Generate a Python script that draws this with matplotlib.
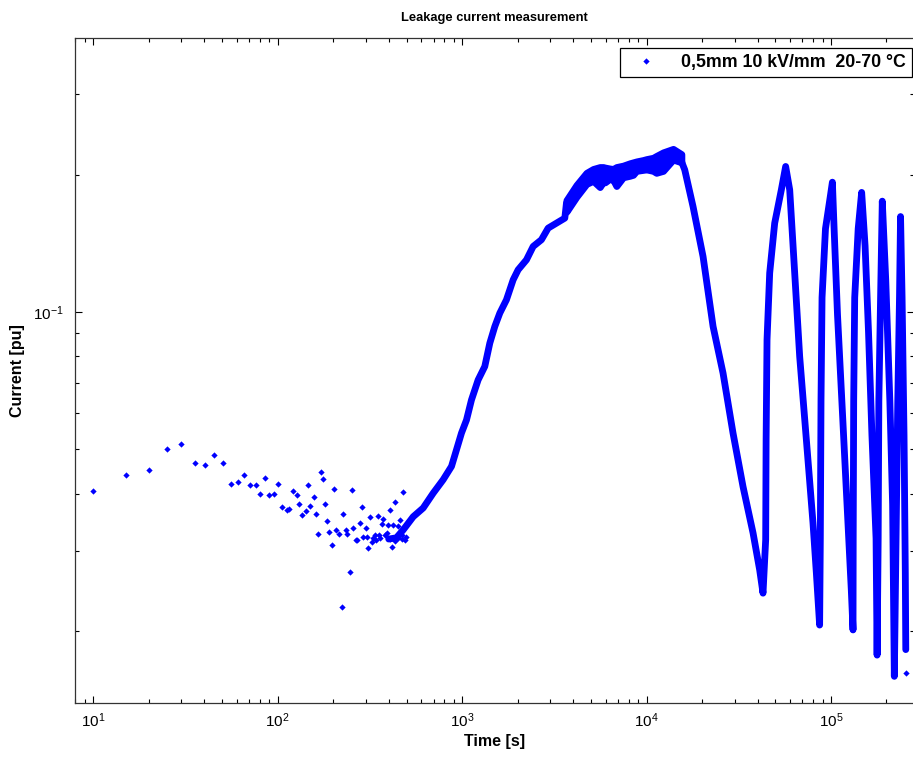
import numpy as np
import matplotlib.pyplot as plt

plt.rcParams['font.family'] = ['Liberation Sans', 'DejaVu Sans']
plt.rcParams['mathtext.default'] = 'regular'

# early readings, 5 s sampling, scattered
t_early = [10, 15, 20, 25, 30, 35.6, 40.3, 45.1, 50.5, 55.8, 60.6, 65.3, 71, 76.2, 80.4,
           85.2, 90, 95, 101, 105, 111.7, 115.5, 121, 126.6, 130, 136, 141.6, 145.8,
           150, 156.4, 161, 165.9, 170.8, 175.8, 180.3, 184.8, 190.2, 196.7, 201.7,
           207.6, 213.8, 222.8, 226.6, 233.3, 238.2, 246.3, 253.5, 256.7, 264.2, 269.8,
           280.2, 287.3, 290.9, 300.7, 309.5, 317.3, 322.6, 329.4, 336.3, 350.6, 355,
           365.6, 373.3, 381.1, 389.2, 397.2, 405.6, 414.3, 423, 431.8, 440.9, 450.2,
           459.6, 469.4, 479.2, 489.2, 305, 343, 360, 405, 430, 450, 470, 495]
i_early = [0.0406, 0.0439, 0.0450, 0.0501, 0.0515, 0.0467, 0.0463, 0.0486, 0.0467, 0.0420,
           0.0424, 0.0439, 0.0417, 0.0417, 0.0400, 0.0432, 0.0397, 0.0400, 0.0420, 0.0374,
           0.0368, 0.0371, 0.0406, 0.0398, 0.0380, 0.0359, 0.0366, 0.0417, 0.0376, 0.0394,
           0.0361, 0.0326, 0.0447, 0.0431, 0.0380, 0.0349, 0.0330, 0.0309, 0.0410, 0.0333,
           0.0326, 0.0226, 0.0361, 0.0333, 0.0326, 0.0269, 0.0408, 0.0336, 0.0317, 0.0317,
           0.0345, 0.0373, 0.0322, 0.0337, 0.0304, 0.0355, 0.0314, 0.0319, 0.0325, 0.0357,
           0.0325, 0.0343, 0.0352, 0.0325, 0.0328, 0.0342, 0.0368, 0.0305, 0.0342, 0.0383,
           0.0319, 0.0340, 0.0350, 0.0325, 0.0403, 0.0317, 0.0322, 0.0316, 0.0320, 0.0318,
           0.0315, 0.0320, 0.0318, 0.0322]

# continuous logging from ~400 s on (band centre)
t_run = [400, 440, 479, 543, 615, 697, 789, 876, 932, 992, 1056, 1124, 1221, 1327, 1413,
         1504, 1601, 1739, 1891, 2012, 2233, 2427, 2692, 2927, 3248, 3604, 3679, 4168,
         4721, 5131, 5577, 6061, 6589, 7157, 8108, 9186, 10850, 12290, 13924, 14510,
         15130, 16110, 17870, 20250, 22950, 25990, 29440, 33370, 37800, 41070, 42810,
         44260, 44500, 45010, 46530, 49530, 53810, 56800, 59740, 63580, 67670, 73550,
         79900, 83320, 86800, 87560, 88310, 89460, 93390, 99610, 101800, 104000, 108500,
         115800, 123500, 128900, 131700, 132000, 132800, 134500, 140500, 146700, 153100,
         159800, 166800, 175600, 177900, 180300, 181800, 185800, 189800, 198200, 208600,
         215900, 220600, 225400, 230300, 235300, 238400, 243000, 249000, 253000, 254500]
i_run = [0.0318, 0.0320, 0.0333, 0.0356, 0.0372, 0.0401, 0.0429, 0.0459, 0.0499, 0.0543,
         0.0580, 0.0642, 0.0710, 0.0760, 0.0855, 0.0930, 0.0995, 0.1064, 0.1177, 0.1238,
         0.1302, 0.1393, 0.1441, 0.1528, 0.1567, 0.1607, 0.1734, 0.1839,
         0.1984, 0.2035, 0.2017, 0.2000, 0.2030, 0.2051, 0.2086, 0.2121, 0.2139, 0.2170,
         0.2250, 0.2213, 0.2190, 0.2051, 0.1704, 0.1324, 0.0930, 0.0735, 0.0543,
         0.0414, 0.0328, 0.0272, 0.0242, 0.0317, 0.0525, 0.0870, 0.1218, 0.1567, 0.1854,
         0.2086, 0.1854, 0.1218, 0.0799, 0.0525, 0.0345, 0.0268, 0.0206, 0.0319, 0.0639,
         0.1076, 0.1524, 0.1814, 0.1927, 0.1524, 0.0987, 0.0586, 0.0348, 0.0246, 0.0201,
         0.0319, 0.0639, 0.1076, 0.1524, 0.1830, 0.1397, 0.0905, 0.0537, 0.0319, 0.0177,
         0.0319, 0.0639, 0.1076, 0.1751, 0.1174, 0.0639, 0.0379, 0.0159, 0.0319, 0.0639,
         0.1076, 0.1620, 0.1076, 0.0537, 0.0268, 0.0182]

# scatter width of the plateau readings (upper / lower edge)
t_band = [3679, 4168, 4721, 5131, 5577, 5816, 5947, 6317, 6589, 6860, 7460, 8108, 8450,
          8810, 9573, 9979, 10850, 11290, 12290, 13924, 15450]
i_band_hi = [0.1760, 0.1900, 0.2020, 0.2060, 0.2080, 0.2080, 0.2075, 0.2065, 0.2060,
             0.2080, 0.2095, 0.2120, 0.2130, 0.2140, 0.2155, 0.2165, 0.2180, 0.2200,
             0.2240, 0.2280, 0.2220]
i_band_lo = [0.1660, 0.1790, 0.1910, 0.1940, 0.1880, 0.1930, 0.1925, 0.1960, 0.1950,
             0.1890, 0.1975, 0.1990, 0.2000, 0.2040, 0.2050, 0.2055, 0.2040, 0.2020,
             0.2040, 0.2160, 0.2130]

t_last = [254100]
i_last = [0.0162]

fig = plt.figure(figsize=(9.13, 7.62), dpi=100)
ax = fig.add_axes([75 / 913, 59 / 762, 839 / 913, 665 / 762])

blue = (0, 0, 1)
ax.plot(t_run, i_run, '-', color=blue, lw=4.9, solid_capstyle='round',
        solid_joinstyle='round', label='_nolegend_')
ax.fill_between(t_band, i_band_lo, i_band_hi, color=blue, lw=4.9, edgecolor=blue,
                joinstyle='round')
ax.plot(t_early, i_early, 'D', color=blue, ms=3.2, mec='none',
        label='0,5mm 10 kV/mm  20-70 °C')
ax.plot(t_last, i_last, 'D', color=blue, ms=3.2, mec='none', label='_nolegend_')

ax.set_xscale('log')
ax.set_yscale('log')
ax.set_xlim(7.96, 2.82e5)
ax.set_ylim(0.0139, 0.399)

ax.tick_params(which='both', direction='in', top=True, right=True, labelsize=11,
               colors='black')
ax.tick_params(which='major', length=5, width=0.8, pad=6)
ax.tick_params(which='minor', length=3, width=0.8)
ax.tick_params(axis='y', which='major', pad=8)
for s in ax.spines.values():
    s.set_linewidth(0.9)
    s.set_color('0.2')

ax.set_title('Leakage current measurement', fontsize=9.3, fontweight='bold', pad=12)
ax.set_xlabel('Time [s]', fontsize=11.5, fontweight='bold', labelpad=3)
ax.set_ylabel('Current [pu]', fontsize=11.5, fontweight='bold', labelpad=6)

leg = ax.legend(loc='upper right', bbox_to_anchor=(911.7 / 913, 1 - 48 / 762),
                bbox_transform=fig.transFigure, borderaxespad=0, fancybox=False,
                framealpha=1, edgecolor='black', handlelength=2.3, handletextpad=0.8,
                prop={'size': 12.8, 'weight': 'bold'}, borderpad=0.33)
leg.get_frame().set_linewidth(0.9)

fig.savefig('out.png', dpi=100)
